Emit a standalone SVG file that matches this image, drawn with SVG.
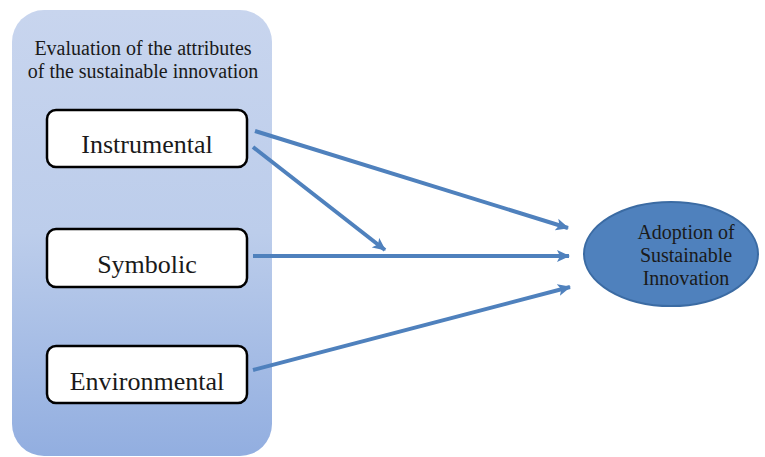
<svg xmlns="http://www.w3.org/2000/svg" width="765" height="457" viewBox="0 0 765 457">
<style>
.box{fill:#fff;stroke:#000;stroke-width:2.5}
.lbl{font-family:"Liberation Serif","Times New Roman",serif;fill:#1a1a1a;text-anchor:middle}
.conn{stroke:#4f81bd;stroke-width:4;fill:none;marker-end:url(#ah)}
</style>
<defs>
<linearGradient id="bg" x1="0" y1="0" x2="0" y2="1">
<stop offset="0" stop-color="#c8d5ee"/>
<stop offset="0.5" stop-color="#bccdeb"/>
<stop offset="1" stop-color="#92aee0"/>
</linearGradient>
<marker id="ah" markerUnits="userSpaceOnUse" markerWidth="14" markerHeight="14" viewBox="0 0 14 14" refX="12" refY="7" orient="auto">
<path d="M0,1 L13,7 L0,13 L3,7 Z" fill="#4f81bd"/>
</marker>
</defs>
<rect width="765" height="457" fill="#fff"/>
<g id="group">
<rect x="12" y="10" width="260" height="446" rx="32" ry="32" fill="url(#bg)"/>
<text class="lbl" x="143" y="55" font-size="20">Evaluation of the attributes</text>
<text class="lbl" x="143" y="78" font-size="20">of the sustainable innovation</text>
</g>
<g id="instrumental">
<rect class="box" x="47" y="110" width="200" height="57" rx="9"/>
<text class="lbl" x="147" y="153" font-size="26">Instrumental</text>
</g>
<g id="symbolic">
<rect class="box" x="47" y="229" width="200" height="58" rx="9"/>
<text class="lbl" x="147" y="273" font-size="26">Symbolic</text>
</g>
<g id="environmental">
<rect class="box" x="47" y="346" width="200" height="57" rx="9"/>
<text class="lbl" x="147" y="390" font-size="26">Environmental</text>
</g>
<g id="adoption">
<ellipse cx="671" cy="254" rx="87" ry="52" fill="#4f81bd" stroke="#3b6ba3" stroke-width="2"/>
<text class="lbl" x="686" y="239" font-size="20">Adoption of</text>
<text class="lbl" x="686" y="262" font-size="20">Sustainable</text>
<text class="lbl" x="686" y="285" font-size="20">Innovation</text>
</g>
<g id="connectors">
<line class="conn" x1="255" y1="131" x2="568" y2="228"/>
<line class="conn" x1="253" y1="147" x2="385" y2="250"/>
<line class="conn" x1="253" y1="256" x2="569" y2="256"/>
<line class="conn" x1="253" y1="370" x2="570" y2="287"/>
</g>
</svg>
